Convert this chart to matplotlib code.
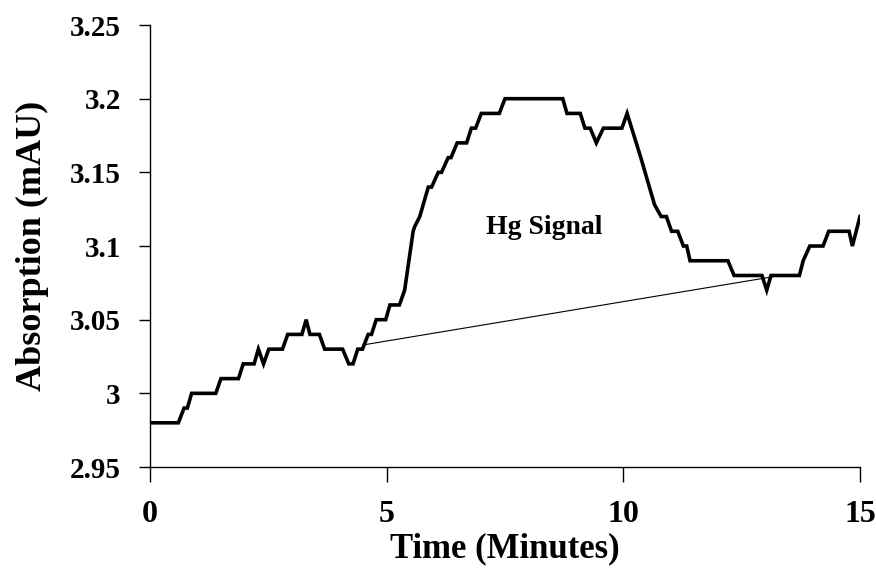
import matplotlib
matplotlib.use("Agg")
import matplotlib.pyplot as plt

# trace vertices (minutes, mAU)
time_min = [0.0, 0.60, 0.72, 0.79, 0.88, 1.39, 1.50, 1.87, 1.97, 2.20, 2.29, 2.40, 2.51,
            2.80, 2.91, 3.21, 3.30, 3.38, 3.58, 3.69, 4.07, 4.20, 4.29, 4.39, 4.49, 4.61,
            4.68, 4.78, 4.98, 5.07, 5.27, 5.38, 5.56, 5.59, 5.70, 5.88, 5.95, 6.09, 6.16,
            6.30, 6.36, 6.49, 6.69, 6.79, 6.88, 7.00, 7.38, 7.50, 8.72, 8.81, 9.09, 9.19,
            9.30, 9.43, 9.58, 9.97, 10.08, 10.37, 10.66, 10.80, 10.91, 11.02, 11.15, 11.27,
            11.34, 11.41, 12.21, 12.34, 12.93, 13.03, 13.12, 13.72, 13.80, 13.94, 14.22,
            14.34, 14.77, 14.84, 15.0]
absorption = [2.98, 2.98, 2.99, 2.99, 3.00, 3.00, 3.01, 3.01, 3.02, 3.02, 3.03, 3.02, 3.03,
              3.03, 3.04, 3.04, 3.05, 3.04, 3.04, 3.03, 3.03, 3.02, 3.02, 3.03, 3.03, 3.04,
              3.04, 3.05, 3.05, 3.06, 3.06, 3.07, 3.11, 3.113, 3.12, 3.14, 3.14, 3.15, 3.15,
              3.16, 3.16, 3.17, 3.17, 3.18, 3.18, 3.19, 3.19, 3.20, 3.20, 3.19, 3.19, 3.18,
              3.18, 3.17, 3.18, 3.18, 3.19, 3.16, 3.128, 3.12, 3.12, 3.11, 3.11, 3.10,
              3.10, 3.09, 3.09, 3.08, 3.08, 3.07, 3.08, 3.08, 3.09, 3.10, 3.10,
              3.11, 3.11, 3.10, 3.12]

# baseline drawn under the peak
base_t = [4.53, 13.32]
base_y = [3.033, 3.080]

fnt = "Liberation Serif"

fig = plt.figure(figsize=(8.76, 5.74), dpi=100)
ax = fig.add_axes([0.1712, 0.1864, 0.8105, 0.770])

ax.plot(time_min, absorption, color="black", linewidth=2.6, solid_joinstyle="miter")
ax.plot(base_t, base_y, color="black", linewidth=0.8)
ax.text(8.34, 3.108, "Hg Signal", fontfamily=fnt, fontweight="bold", fontsize=20,
        ha="center", va="baseline")

ax.set_xlim(0, 15)
ax.set_ylim(2.95, 3.25)
ax.set_xticks([0, 5, 10, 15])
ax.set_yticks([2.95, 3.0, 3.05, 3.1, 3.15, 3.2, 3.25])
ax.set_yticklabels(["2.95", "3", "3.05", "3.1", "3.15", "3.2", "3.25"])

for s in ["top", "right"]:
    ax.spines[s].set_visible(False)
for s in ["left", "bottom"]:
    ax.spines[s].set_linewidth(1.0)

ax.tick_params(axis="x", direction="out", length=11, width=1, pad=13)
ax.tick_params(axis="y", direction="out", length=8, width=1, pad=13)
for lab in ax.get_xticklabels():
    lab.set_fontfamily(fnt)
    lab.set_fontweight("bold")
    lab.set_fontsize(23)
for lab in ax.get_yticklabels():
    lab.set_fontfamily(fnt)
    lab.set_fontweight("bold")
    lab.set_fontsize(21)

ax.set_xlabel("Time (Minutes)", fontfamily=fnt, fontweight="bold", fontsize=25, labelpad=2)
ax.set_ylabel("Absorption (mAU)", fontfamily=fnt, fontweight="bold", fontsize=26, labelpad=15)

fig.savefig("out.png", dpi=100)
